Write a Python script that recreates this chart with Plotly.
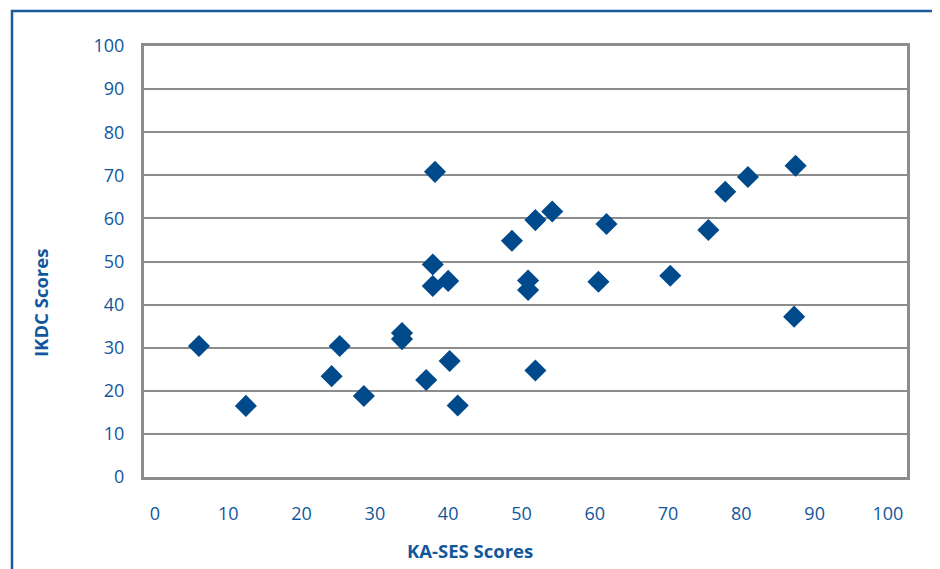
import plotly.graph_objects as go

# Data
ka_ses = [6.0, 12.4, 24.1, 25.2, 28.5, 33.7, 33.7, 37.0, 40.2, 41.3,
          38.2, 37.9, 37.9, 40.0, 48.7, 51.9, 54.2, 50.9, 50.9, 51.9,
          60.5, 61.6, 70.3, 75.5, 77.8, 80.9, 87.4, 87.2]
ikdc = [30.4, 16.5, 23.4, 30.4, 18.8, 33.4, 32.0, 22.5, 26.9, 16.6,
        70.8, 49.3, 44.3, 45.5, 54.8, 59.6, 61.6, 45.6, 43.4, 24.7,
        45.3, 58.7, 46.7, 57.3, 66.2, 69.6, 72.2, 37.2]
tick_vals = [0, 10, 20, 30, 40, 50, 60, 70, 80, 90, 100]
tick_text = [str(v) for v in tick_vals]

OFF = 8  # page body margin
W, H = 940 - OFF, 569 - OFF
L, R, T, B = 144 - OFF, 33, 46 - OFF, 92
PW, PH = W - L - R, H - T - B

def px_x(x):
    return (x - OFF - L) / PW

def px_y(y):
    return (H - B - (y - OFF)) / PH

BLUE_TXT = "#11579c"
MARK = "#004a8c"
GRID = "#8c8c8c"
FRAME = "#1a5a9c"

fig = go.Figure()
fig.add_trace(go.Scatter(
    x=ka_ses, y=ikdc, mode="markers",
    marker=dict(symbol="diamond", size=17, color=MARK, line=dict(width=0)),
    showlegend=False, hoverinfo="x+y",
))

fig.update_layout(
    width=W, height=H,
    margin=dict(l=L, r=R, t=T, b=B),
    paper_bgcolor="white", plot_bgcolor="white",
    font=dict(family="Open Sans, Noto Sans, sans-serif", color=BLUE_TXT, size=18),
    xaxis=dict(range=[-1.5, 102.6], tickvals=tick_vals, ticktext=tick_text,
               showgrid=False, zeroline=False, showline=True, mirror=True,
               linecolor=GRID, linewidth=3, ticks="", ticklabelstandoff=18,
               tickfont=dict(size=18, color=BLUE_TXT)),
    yaxis=dict(range=[0, 100], tickvals=tick_vals, ticktext=tick_text,
               showgrid=True, gridcolor=GRID, gridwidth=2, zeroline=False,
               showline=True, mirror=True, linecolor=GRID, linewidth=3,
               ticks="", ticklabelstandoff=13,
               tickfont=dict(size=18, color=BLUE_TXT)),
    shapes=[
        dict(type="line", xref="paper", yref="paper",
             x0=px_x(12), x1=px_x(12), y0=px_y(10), y1=px_y(575),
             line=dict(color=FRAME, width=2.5)),
        dict(type="line", xref="paper", yref="paper",
             x0=px_x(11), x1=px_x(945), y0=px_y(11), y1=px_y(11),
             line=dict(color=FRAME, width=2.5)),
    ],
    annotations=[
        dict(text="<b>KA-SES Scores</b>", xref="paper", yref="paper",
             x=px_x(470), y=px_y(550), showarrow=False,
             xanchor="center", yanchor="middle",
             font=dict(size=18.5, color=BLUE_TXT)),
        dict(text="<b>IKDC Scores</b>", xref="paper", yref="paper",
             x=px_x(41), y=px_y(303), showarrow=False, textangle=-90,
             xanchor="center", yanchor="middle",
             font=dict(size=18.5, color=BLUE_TXT)),
    ],
)

fig.write_html("out.html")
